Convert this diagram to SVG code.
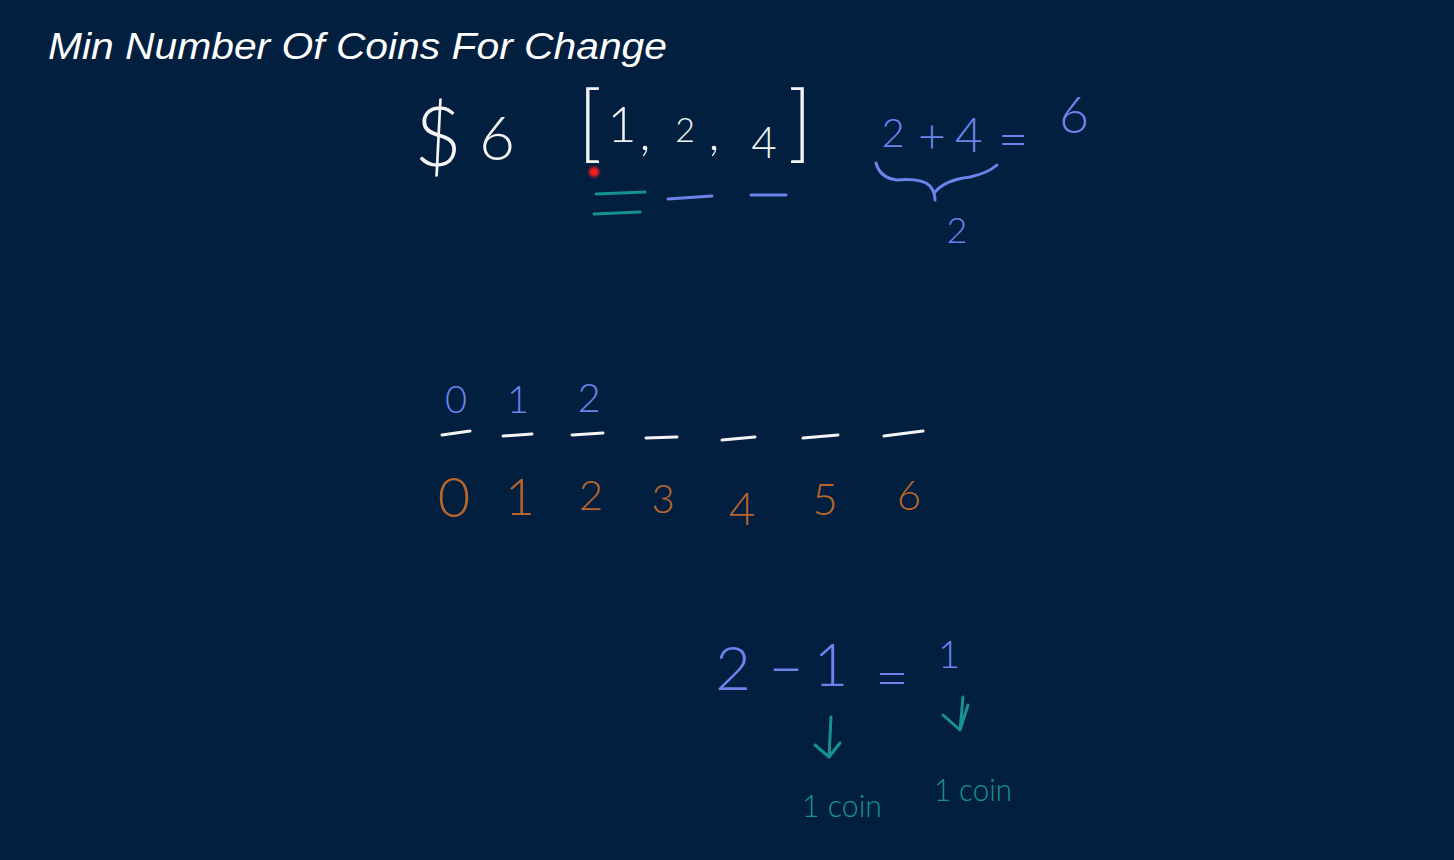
<svg xmlns="http://www.w3.org/2000/svg" width="1454" height="860" viewBox="0 0 1454 860">
<defs>
<style>
.h{font-family:Lato,"Open Sans","DejaVu Sans",sans-serif;font-weight:300;text-anchor:middle}
.w{fill:#f4f4f4}
.b{fill:#6c83ec}
.o{fill:#b8662c}
.t{fill:#17918f}
.ln{fill:none;stroke-linecap:round;stroke-linejoin:round}
.sw{stroke:#f4f4f4;stroke-width:3}
.sb{stroke:#6c83ec;stroke-width:3}
.st{stroke:#17918f;stroke-width:3}
</style>
<filter id="glow" x="-2" y="-2" width="5" height="5"><feGaussianBlur stdDeviation="1.5"/></filter>
</defs>
<rect width="1454" height="860" fill="#021f3f"/>
<g id="title"><text x="48" y="59" font-family="'Liberation Sans',Arial,sans-serif" font-style="italic" font-size="37" fill="#ffffff" textLength="619" lengthAdjust="spacingAndGlyphs">Min Number Of Coins For Change</text></g>
<g id="amount" class="h w">
<text x="438" y="166" font-size="82">$</text>
<text x="497" y="160" font-size="62">6</text>
</g>
<g id="coins" class="h w">
<text x="590" y="152" font-size="84" textLength="24" lengthAdjust="spacingAndGlyphs">[</text>
<text x="622" y="142" font-size="50">1</text>
<text x="645" y="150" font-size="50">,</text>
<text x="685" y="142" font-size="34">2</text>
<text x="714" y="150" font-size="50">,</text>
<text x="764" y="158" font-size="44">4</text>
<text x="800" y="152" font-size="84" textLength="24" lengthAdjust="spacingAndGlyphs">]</text>
</g>
<circle id="pointer" cx="594" cy="172" r="5" fill="#ff1a1a" filter="url(#glow)"/>
<g id="sum" class="h b">
<text x="893" y="147" font-size="40">2</text>
<text x="932" y="153" font-size="48">+</text>
<text x="969" y="152" font-size="48">4</text>
<text x="1013" y="157" font-size="52">=</text>
<text x="1074" y="133" font-size="52">6</text>
<text x="957" y="243" font-size="36">2</text>
</g>
<g id="dp-values" class="h b">
<text x="456" y="413" font-size="38">0</text>
<text x="518" y="413" font-size="38">1</text>
<text x="589" y="412" font-size="40">2</text>
</g>
<g id="dp-indices" class="h o">
<text x="454" y="517" font-size="56">0</text>
<text x="520" y="515" font-size="52">1</text>
<text x="591" y="510" font-size="42">2</text>
<text x="663" y="513" font-size="40">3</text>
<text x="742" y="525" font-size="46">4</text>
<text x="825" y="515" font-size="44">5</text>
<text x="909" y="510" font-size="42">6</text>
</g>
<g id="subtraction" class="h b">
<text x="733" y="690" font-size="62">2</text>
<text transform="translate(786 688) scale(1.7 1)" x="0" y="0" font-size="62">-</text>
<text x="831" y="686" font-size="60">1</text>
<text x="892" y="698" font-size="58">=</text>
<text x="949" y="668" font-size="38">1</text>
</g>
<g id="coin-labels" class="h t">
<text x="842" y="817" font-size="32" textLength="80" lengthAdjust="spacingAndGlyphs">1 coin</text>
<text x="973" y="801" font-size="32" textLength="78" lengthAdjust="spacingAndGlyphs">1 coin</text>
</g>
<g id="connectors" class="ln">
<path class="st" d="M596 194 L645 192 M594 214 L640 212" stroke-width="5"/>
<path class="sb" d="M668 199 L712 196 M751 195 L786 195"/>
<path class="sb" d="M876 163 Q880 178 897 180 Q922 178 930 186 Q935 192 935 200 M935 192 Q945 180 970 177 Q988 173 997 165"/>
<path class="sw" d="M442 435 L470 431 M503 436 L532 434 M572 435 L603 433 M646 438 L677 437 M722 440 L755 437 M803 438 L838 435 M884 436 L923 431"/>
<path class="st" d="M831 717 L829 757 M815 745 L829 757 L840 743"/>
<path class="st" d="M963 697 L960 730 M943 715 L960 730 L968 705"/>
</g>
</svg>
